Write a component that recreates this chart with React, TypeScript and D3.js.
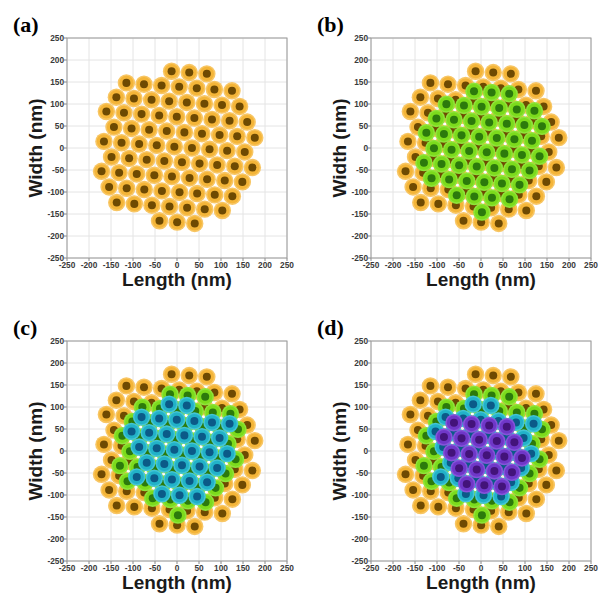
import React from 'react'
import * as d3 from 'd3'

// axis ticks (nm)
const ticks = [-250, -200, -150, -100, -50, 0, 50, 100, 150, 200, 250]

// particle centres, [length nm, width nm]
const goldSites: [number, number][] = [
  [-12.3, 174.5], [27.8, 171.5], [67.8, 168.5],
  [-115, 148], [-75, 145], [-35, 142], [5, 139], [45, 136], [85, 133], [125, 130],
  [-137.8, 115.5], [-97.8, 112.5], [-57.8, 109.5], [-17.8, 106.5], [22.3, 103.5], [62.3, 100.5], [102.3, 97.5], [142.3, 94.5],
  [-160.5, 83], [-120.5, 80], [-80.5, 77], [-40.5, 74], [-0.5, 71], [39.5, 68], [79.5, 65], [119.5, 62], [159.5, 59],
  [-143.3, 47.5], [-103.3, 44.5], [-63.3, 41.5], [-23.3, 38.5], [16.8, 35.5], [56.8, 32.5], [96.8, 29.5], [136.8, 26.5], [176.8, 23.5],
  [-166, 15], [-126, 12], [-86, 9], [-46, 6], [-6, 3], [34, 0], [74, -3], [114, -6], [154, -9],
  [-148.8, -20.5], [-108.8, -23.5], [-68.8, -26.5], [-28.8, -29.5], [11.3, -32.5], [51.3, -35.5], [91.3, -38.5], [131.3, -41.5], [171.3, -44.5],
  [-171.5, -53], [-131.5, -56], [-91.5, -59], [-51.5, -62], [-11.5, -65], [28.5, -68], [68.5, -71], [108.5, -74], [148.5, -77],
  [-154.3, -88.5], [-114.3, -91.5], [-74.3, -94.5], [-34.3, -97.5], [5.8, -100.5], [45.8, -103.5], [85.8, -106.5], [125.8, -109.5],
  [-137, -124], [-97, -127], [-57, -130], [-17, -133], [23, -136], [63, -139], [103, -142],
  [-39.8, -165.5], [0.3, -168.5], [40.3, -171.5],
]

const greenSites: [number, number][] = [
  [-15.9, 129.2], [24.1, 126.2], [64.1, 123.2],
  [-78.7, 99.7], [-38.7, 96.7], [1.4, 93.7], [41.4, 90.7], [81.4, 87.7], [121.4, 84.7],
  [-101.4, 67.2], [-61.4, 64.2], [-21.4, 61.2], [18.6, 58.2], [58.6, 55.2], [98.6, 52.2], [138.6, 49.2],
  [-124.2, 34.7], [-84.2, 31.7], [-44.2, 28.7], [-4.2, 25.7], [35.9, 22.7], [75.9, 19.7], [115.9, 16.7],
  [-106.9, -0.8], [-66.9, -3.8], [-26.9, -6.8], [13.1, -9.8], [53.1, -12.8], [93.1, -15.8], [133.1, -18.8],
  [-129.7, -33.3], [-89.7, -36.3], [-49.7, -39.3], [-9.7, -42.3], [30.4, -45.3], [70.4, -48.3], [110.4, -51.3],
  [-112.4, -68.8], [-72.4, -71.8], [-32.4, -74.8], [7.6, -77.8], [47.6, -80.8], [87.6, -83.8],
  [-55.2, -107.3], [-15.2, -110.3], [24.9, -113.3], [64.9, -116.3],
  [2.1, -145.8],
]

const cyanSites: [number, number][] = [
  [-17.8, 106.5], [22.3, 103.5],
  [-80.5, 77], [-40.5, 74], [-0.5, 71], [39.5, 68], [79.5, 65], [119.5, 62],
  [-103.3, 44.5], [-63.3, 41.5], [-23.3, 38.5], [16.8, 35.5], [56.8, 32.5], [96.8, 29.5],
  [-86, 9], [-46, 6], [-6, 3], [34, 0], [74, -3], [114, -6],
  [-68.8, -26.5], [-28.8, -29.5], [11.3, -32.5], [51.3, -35.5], [91.3, -38.5],
  [-91.5, -59], [-51.5, -62], [-11.5, -65], [28.5, -68], [68.5, -71],
  [-34.3, -97.5], [5.8, -100.5], [45.8, -103.5],
]

const purpleSites: [number, number][] = [
  [-61.4, 64.2], [-21.4, 61.2], [18.6, 58.2], [58.6, 55.2],
  [-84.2, 31.7], [-44.2, 28.7], [-4.2, 25.7], [35.9, 22.7], [75.9, 19.7],
  [-66.9, -3.8], [-26.9, -6.8], [13.1, -9.8], [53.1, -12.8], [93.1, -15.8],
  [-49.7, -39.3], [-9.7, -42.3], [30.4, -45.3], [70.4, -48.3],
  [-32.4, -74.8], [7.6, -77.8], [47.6, -80.8],
]

const layers = [
  { sites: goldSites, rim: '#f8c664', body: '#f4b538', core: '#6e4a02' },
  { sites: greenSites, rim: '#8ee43a', body: '#7cdb1c', core: '#2c7a0c' },
  { sites: cyanSites, rim: '#43c5d6', body: '#22b2c8', core: '#0b5a88' },
  { sites: purpleSites, rim: '#8654da', body: '#6f37c8', core: '#43137a' },
]

const panels = [
  { label: '(a)', left: 67, top: 38, depth: 1 },
  { label: '(b)', left: 371, top: 38, depth: 2 },
  { label: '(c)', left: 67, top: 341, depth: 3 },
  { label: '(d)', left: 371, top: 341, depth: 4 },
]

const SIZE = 220

function Panel({ label, left, top, depth }: { label: string; left: number; top: number; depth: number }) {
  const x = d3.scaleLinear().domain([-250, 250]).range([left, left + SIZE])
  const y = d3.scaleLinear().domain([-250, 250]).range([top + SIZE, top])
  const rOut = x(19.8) - x(0)

  return (
    <g>
      <text x={left - 54} y={top - 6} fontFamily="Liberation Serif" fontWeight="bold" fontSize={22}>
        {label}
      </text>
      {ticks.map((t) => (
        <g key={t}>
          <line x1={x(t)} x2={x(t)} y1={top} y2={top + SIZE} stroke="#e4e4e4" strokeWidth={1} />
          <line x1={left} x2={left + SIZE} y1={y(t)} y2={y(t)} stroke="#e4e4e4" strokeWidth={1} />
          <line x1={left - 3} x2={left} y1={y(t)} y2={y(t)} stroke="#888" />
          <line x1={x(t)} x2={x(t)} y1={top + SIZE} y2={top + SIZE + 3} stroke="#888" />
          <text x={left - 3} y={y(t)} dy="0.35em" textAnchor="end" fontFamily="Liberation Sans"
            fontWeight="bold" fontSize={8.3} fill="#3a3a3a">{String(t)}</text>
          <text x={x(t)} y={top + SIZE + 9.5} textAnchor="middle" fontFamily="Liberation Sans"
            fontWeight="bold" fontSize={8.3} fill="#3a3a3a">{String(t)}</text>
        </g>
      ))}
      <rect x={left} y={top} width={SIZE} height={SIZE} fill="none" stroke="#9a9a9a" strokeWidth={1} />
      {layers.slice(0, depth).map((l, li) => (
        <g key={li}>
          {l.sites.map(([a, b], i) => (
            <g key={i}>
              <circle cx={x(a)} cy={y(b)} r={rOut} fill={l.rim} />
              <circle cx={x(a)} cy={y(b)} r={rOut * 0.82} fill={l.body} />
            </g>
          ))}
          {l.sites.map(([a, b], i) => (
            <circle key={'c' + i} cx={x(a)} cy={y(b)} r={rOut * 0.46} fill={l.core} />
          ))}
        </g>
      ))}
      <text x={left + SIZE / 2} y={top + SIZE + 28} textAnchor="middle" fontFamily="Liberation Sans"
        fontWeight="bold" fontSize={19} fill="#1a1a1a">Length (nm)</text>
      <text transform={`translate(${left - 25},${top + SIZE / 2}) rotate(-90)`} textAnchor="middle"
        fontFamily="Liberation Sans" fontWeight="bold" fontSize={19} fill="#1a1a1a">Width (nm)</text>
    </g>
  )
}

export default function App() {
  return (
    <svg width={607} height={593} style={{ position: 'absolute', left: 0, top: 0, background: '#fff' }}>
      {panels.map((p) => (
        <Panel key={p.label} {...p} />
      ))}
    </svg>
  )
}
